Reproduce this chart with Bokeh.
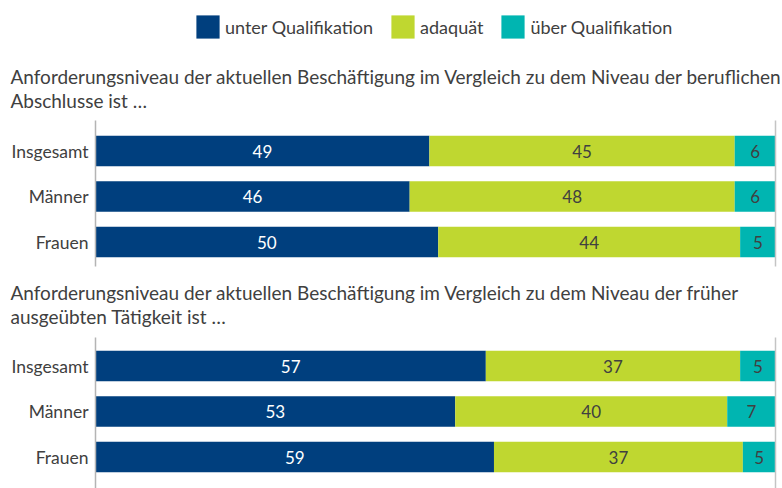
from bokeh.plotting import figure
from bokeh.models import Range1d, ColumnDataSource, Legend, LegendItem
from bokeh.core.properties import value
from bokeh.embed import file_html
from bokeh.resources import INLINE

# ---------------- data ----------------
series = ["unter Qualifikation", "adaquät", "über Qualifikation"]
groups = ["Insgesamt", "Männer", "Frauen"]
title_1 = ["Anforderungsniveau der aktuellen Beschäftigung im Vergleich zu dem Niveau der beruflichen",
           "Abschlusse ist …"]
title_2 = ["Anforderungsniveau der aktuellen Beschäftigung im Vergleich zu dem Niveau der früher",
           "ausgeübten Tätigkeit ist …"]
p1_unter = [49.1, 46.2, 50.4]
p1_adaq = [44.9, 47.8, 44.4]
p1_ueber = [6.0, 6.0, 5.2]
p2_unter = [57.4, 52.9, 58.6]
p2_adaq = [37.4, 40.0, 36.6]
p2_ueber = [5.2, 7.1, 4.8]

# ---------------- style / layout ----------------
W, H = 782, 488
X0, X100 = 95, 775
SCALE = (X100 - X0) / 100.0
COLORS = ["#003f7e", "#bfd730", "#00b5b1"]
LABEL_COLORS = ["#ffffff", "#404040", "#404040"]
TEXT = "#404040"
FONT = "Lato"
ROW_STEP = 45.5
BAR_H = 30.5
PANELS = [
    dict(title=title_1, data=[p1_unter, p1_adaq, p1_ueber], first=150.5, title_y=76, axis=(120, 266)),
    dict(title=title_2, data=[p2_unter, p2_adaq, p2_ueber], first=365.5, title_y=292, axis=(337, 488)),
]

p = figure(width=W, height=H, output_backend="svg", toolbar_location=None,
           x_range=Range1d(-X0 / SCALE, (W - X0) / SCALE), y_range=Range1d(H, 0),
           x_axis_location=None, y_axis_location=None, min_border=0,
           outline_line_color=None)
p.grid.visible = False

legend_renderers = None
for panel in PANELS:
    ys = [panel["first"] + i * ROW_STEP for i in range(len(groups))]
    left = [0.0] * len(groups)
    rends = []
    for k, vals in enumerate(panel["data"]):
        right = [l + v for l, v in zip(left, vals)]
        src = ColumnDataSource(dict(
            y=ys, left=left, right=right,
            mid=[(l + r) / 2 for l, r in zip(left, right)],
            lab=[f"{v:.0f}" for v in vals]))
        r = p.hbar(y="y", left="left", right="right", height=BAR_H, source=src,
                   fill_color=COLORS[k], line_color=None)
        rends.append(r)
        p.text(x="mid", y="y", text="lab", source=src, text_align="center",
               text_baseline="middle", text_font=value(FONT), text_font_size="17px",
               text_color=LABEL_COLORS[k])
        left = right
    if legend_renderers is None:
        legend_renderers = rends
    # category labels
    p.text(x=[0] * len(groups), y=ys, text=groups, x_offset=-7, text_align="right",
           text_baseline="middle", text_font=value(FONT), text_font_size="17.5px",
           text_color=TEXT)
    # axis line and 100% line
    a0, a1 = panel["axis"]
    p.segment(x0=[0], x1=[0], y0=[a0], y1=[a1], line_color="#b4b4b4", line_width=1.5)
    p.segment(x0=[100], x1=[100], y0=[a0], y1=[a1], line_color="#c4c4c4", line_width=1.5)
    # title
    p.text(x=[(10 - X0) / SCALE] * 2, y=[panel["title_y"], panel["title_y"] + 24],
           text=panel["title"], text_align="left", text_baseline="alphabetic",
           text_font=value(FONT), text_font_size="19px", text_color=TEXT)

legend = Legend(items=[LegendItem(label=s, renderers=[r]) for s, r in zip(series, legend_renderers)],
                orientation="horizontal", location=(193, H - 41),
                glyph_width=29, glyph_height=29, label_standoff=3, spacing=15,
                padding=0, margin=0, border_line_color=None, background_fill_alpha=0,
                label_text_font=FONT, label_text_font_size="18px", label_text_color=TEXT,
                label_height=29)
p.add_layout(legend)

open("out.html", "w").write(file_html(p, INLINE))
